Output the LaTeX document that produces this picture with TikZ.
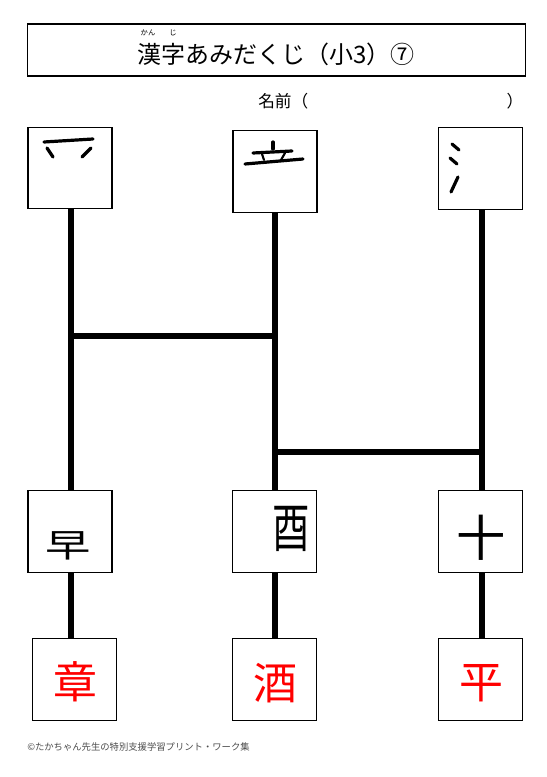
\documentclass[tikz,border=0pt]{standalone}
\usepackage{fontspec}
\setmainfont{Noto Sans CJK JP}
\begin{document}
\begin{tikzpicture}[x=0.75pt,y=-0.75pt,
  box/.style={draw,line width=0.9pt,fill=white,inner sep=0pt},
  bigbox/.style={box,minimum width=63pt,minimum height=61pt},
  rail/.style={line width=4.5pt},
  stroke/.style={line width=2.4pt,line cap=round},
  part/.style={inner sep=0pt},
  ans/.style={inner sep=0pt,text=red,font=\fontsize{33pt}{33pt}\selectfont}]
\useasboundingbox (0,0) rectangle (546,777);
% title
\node[draw,line width=0.8pt,minimum width=374pt,minimum height=39pt,inner sep=0pt] (title) at (276.5,50) {};
\node[inner sep=0pt,font=\fontsize{18pt}{18pt}\selectfont] (ttext) at (276,54) {漢字あみだくじ（小3）⑦};
\node[inner sep=0pt,font=\fontsize{5.5pt}{5.5pt}\selectfont] (furi1) at (148,33) {かん};
\node[inner sep=0pt,font=\fontsize{5.5pt}{5.5pt}\selectfont] (furi2) at (173,33) {じ};
\node[inner sep=0pt,font=\fontsize{12.5pt}{12.5pt}\selectfont,anchor=west] (name) at (258,101) {名前（};
\node[inner sep=0pt,font=\fontsize{12.5pt}{12.5pt}\selectfont] (namer) at (515,101) {）};
% boxes
\node[bigbox] (tl) at (70,168) {};
\node[bigbox] (tm) at (275,171.5) {};
\node[bigbox] (tr) at (480.5,168.5) {};
\node[bigbox] (ml) at (70,531.5) {};
\node[bigbox] (mm) at (274.5,531.5) {};
\node[bigbox] (mr) at (480.5,531.5) {};
\node[bigbox] (bl) at (74.5,679.5) {};
\node[bigbox] (bm) at (274.5,679.5) {};
\node[bigbox] (br) at (480.5,679.5) {};
% rails
\coordinate (r1a) at (71,336);
\coordinate (r1b) at (275,336);
\coordinate (r2a) at (275,452);
\coordinate (r2b) at (482,452);
\draw[rail] (71,0 |- tl.south) -- (71,0 |- ml.north);
\draw[rail] (275,0 |- tm.south) -- (275,0 |- mm.north);
\draw[rail] (482,0 |- tr.south) -- (482,0 |- mr.north);
\draw[rail] (71,0 |- ml.south) -- (71,0 |- bl.north);
\draw[rail] (275,0 |- mm.south) -- (275,0 |- bm.north);
\draw[rail] (482,0 |- mr.south) -- (482,0 |- br.north);
\draw[rail] (r1a) -- (r1b);
\draw[rail] (r2a) -- (r2b);
% top parts (hand-drawn strokes)
\draw[stroke] (44,142) -- (93,139);
\draw[stroke] (47,148) -- (53,157);
\draw[stroke] (91,148) -- (82,157);
\draw[stroke] (273,142) -- (273,149);
\draw[stroke] (253,153) -- (292,151);
\draw[stroke,line width=1.6pt] (262,154) -- (264,160);
\draw[stroke,line width=1.6pt] (285,153) -- (281,160);
\draw[stroke] (245,164) -- (303,159);
\draw[stroke] (452,144) -- (459,150);
\draw[stroke] (450,158) -- (457,164);
\draw[stroke] (451,192) -- (458,177);
% middle parts
\node[part,font=\fontsize{34pt}{34pt}\selectfont,yscale=0.72] (p1) at (68,546) {早};
\node[part,font=\fontsize{40pt}{40pt}\selectfont,xscale=0.7] (p2) at (291,529) {酉};
\node[part,font=\fontsize{37pt}{37pt}\selectfont] (p3) at (481,538) {十};
% answers
\node[ans] (a1) at (75,682) {章};
\node[ans] (a2) at (275.5,683) {酒};
\node[ans] (a3) at (481.5,683) {平};
% footer
\node[inner sep=0pt,anchor=west,text=black!70,font=\fontsize{7pt}{7pt}\selectfont] (foot) at (27,747) {©たかちゃん先生の特別支援学習プリント・ワーク集};
\end{tikzpicture}
\end{document}
